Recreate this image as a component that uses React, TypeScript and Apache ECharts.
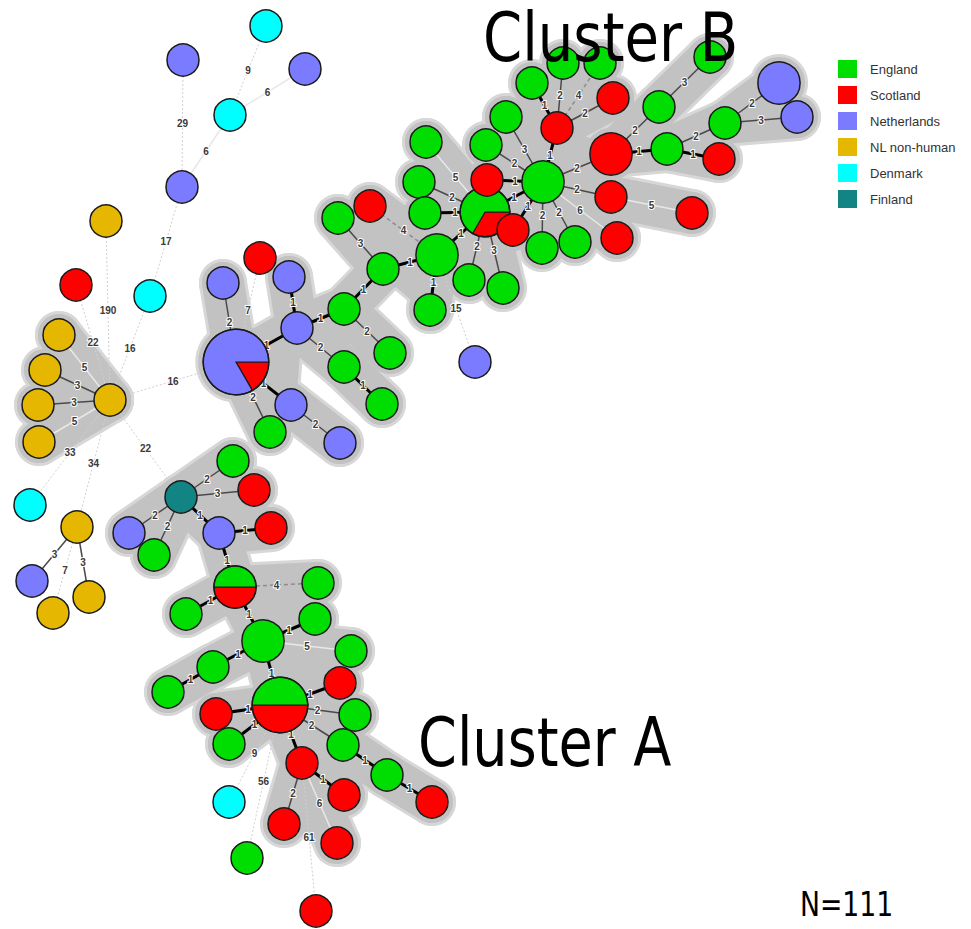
import React, { useEffect, useRef } from "react";
import * as echarts from "echarts";

const countries = ["England", "Scotland", "Netherlands", "NL non-human", "Denmark", "Finland"];
const countryColors = ["#00dd00", "#ff0000", "#7b7bff", "#e5b700", "#00ffff", "#138484"];

const E = 0, S = 1, NL = 2, H = 3, DK = 4, FI = 5;

// node positions (chart units, y grows downward)
const nodeX = [266, 183, 305, 230, 182, 150,
  106, 76, 110, 59, 45, 38, 39,
  30, 77, 32, 53, 89,
  181, 233, 254, 129, 154, 219, 271,
  235, 318, 186, 263, 315, 351, 213, 168, 280, 340, 216, 355, 229, 343, 302, 387, 432, 344, 284, 337, 229, 247, 316,
  236, 223, 260, 289, 297, 344, 390, 344, 382, 291, 340, 270, 383,
  437, 430, 475, 338, 370, 426, 419, 425, 485, 487, 513, 469, 503, 543, 486, 506, 532, 563, 600, 557, 613, 611, 659, 710, 667, 725, 719, 779, 797, 611, 692, 542, 575, 617];
const nodeY = [26, 60, 69, 115, 187, 296,
  221, 285, 400, 335, 370, 405, 442,
  505, 527, 581, 613, 597,
  497, 461, 490, 533, 555, 533, 528,
  587, 583, 614, 641, 619, 651, 667, 692, 705, 683, 714, 715, 744, 745, 763, 775, 802, 795, 824, 843, 802, 858, 911,
  362, 283, 258, 277, 328, 309, 353, 367, 404, 405, 443, 432, 269,
  255, 310, 362, 218, 206, 142, 182, 213, 212, 180, 230, 280, 288, 182, 145, 117, 83, 63, 63, 128, 98, 154, 107, 57, 149, 123, 159, 83, 117, 197, 213, 248, 242, 238];

// isolates per node: [country, count]
const nodeMix: number[][][] = [
  [[DK, 1]], [[NL, 1]], [[NL, 1]], [[DK, 1]], [[NL, 1]], [[DK, 1]],
  [[H, 1]], [[S, 1]], [[H, 1]], [[H, 1]], [[H, 1]], [[H, 1]], [[H, 1]],
  [[DK, 1]], [[H, 1]], [[NL, 1]], [[H, 1]], [[H, 1]],
  [[FI, 1]], [[E, 1]], [[S, 1]], [[NL, 1]], [[E, 1]], [[NL, 1]], [[S, 1]],
  [[S, 1], [E, 1]], [[E, 1]], [[E, 1]], [[E, 2]], [[E, 1]], [[E, 1]], [[E, 1]], [[E, 1]], [[S, 2], [E, 2]], [[S, 1]], [[S, 1]], [[E, 1]], [[E, 1]], [[E, 1]], [[S, 1]], [[E, 1]], [[S, 1]], [[S, 1]], [[S, 1]], [[S, 1]], [[DK, 1]], [[E, 1]], [[S, 1]],
  [[S, 1], [NL, 5]], [[NL, 1]], [[S, 1]], [[NL, 1]], [[NL, 1]], [[E, 1]], [[E, 1]], [[E, 1]], [[E, 1]], [[NL, 1]], [[NL, 1]], [[E, 1]], [[E, 1]],
  [[E, 2]], [[E, 1]], [[NL, 1]], [[E, 1]], [[S, 1]], [[E, 1]], [[E, 1]], [[E, 1]], [[S, 1], [E, 2]], [[S, 1]], [[S, 1]], [[E, 1]], [[E, 1]], [[E, 2]], [[E, 1]], [[E, 1]], [[E, 1]], [[E, 1]], [[E, 1]], [[S, 1]], [[S, 1]], [[S, 2]], [[E, 1]], [[E, 1]], [[E, 1]], [[E, 1]], [[S, 1]], [[NL, 2]], [[NL, 1]], [[S, 1]], [[S, 1]], [[E, 1]], [[E, 1]], [[S, 1]],
];

// minimum spanning tree edges and allele distances
const edgeFrom = [0, 2, 1, 3, 4, 5,
  6, 7, 9, 10, 11, 12, 8, 8, 8, 8,
  14, 14, 14,
  18, 18, 18, 18, 18, 23, 23,
  25, 25, 25, 28, 28, 28, 31, 28, 33, 33, 33, 33, 33, 33, 38, 40, 39, 39, 39, 39, 33, 33,
  48, 48, 48, 52, 52, 52, 53, 55, 53, 60, 61, 60, 48, 57, 48,
  61, 61, 65, 66, 67, 68, 69, 69, 69, 70, 71, 74, 74, 74, 80, 80, 80, 80, 74, 74, 74, 74, 74, 82, 83, 82, 85, 85, 86, 86, 90];
const edgeTo = [3, 3, 4, 4, 5, 8,
  8, 8, 8, 8, 8, 8, 48, 18, 13, 14,
  15, 16, 17,
  19, 20, 21, 22, 23, 24, 25,
  26, 27, 28, 29, 30, 31, 32, 33, 34, 35, 36, 38, 37, 39, 40, 41, 42, 43, 44, 47, 45, 46,
  49, 50, 52, 51, 53, 55, 54, 56, 60, 61, 62, 64, 57, 58, 59,
  69, 63, 61, 69, 69, 69, 72, 73, 74, 74, 74, 75, 76, 80, 77, 78, 79, 81, 82, 90, 92, 93, 94, 83, 84, 85, 86, 87, 88, 89, 91];
const edgeDist = [9, 6, 29, 6, 17, 16,
  190, 22, 5, 3, 3, 5, 16, 22, 33, 34,
  3, 7, 3,
  2, 3, 2, 2, 1, 1, 1,
  4, 1, 1, 1, 5, 1, 1, 1, 1, 1, 2, 2, 1, 1, 1, 1, 1, 2, 6, 61, 9, 56,
  2, 7, 1, 1, 1, 2, 2, 1, 1, 1, 1, 3, 1, 2, 2,
  1, 15, 4, 5, 2, 1, 2, 3, 1, 1, 1, 2, 3, 1, 1, 2, 4, 2, 2, 2, 2, 2, 6, 2, 3, 1, 2, 1, 2, 3, 5];

// nodes outside the shaded complexes
const unshadedNodes = [0, 1, 2, 3, 4, 5, 6, 7, 13, 14, 15, 16, 17, 45, 46, 47, 50, 63];
const complexMaxDist = 6;

const titleTexts = ["Cluster B", "Cluster A"];
const sampleNote = "N=111";

const nodeTotal = (i: number) => nodeMix[i].reduce((s, m) => s + m[1], 0);
const radiusOf = (count: number) => 16 * Math.pow(count, 0.4);

function edgeStyle(d: number) {
  if (d === 1) return { stroke: "#000", lineWidth: 3 };
  if (d <= 3) return { stroke: "#4a4a4a", lineWidth: 1.5 };
  if (d === 4) return { stroke: "#8c8c8c", lineWidth: 1.5, lineDash: [4, 3] };
  if (d <= 6) return { stroke: "#e8e8e8", lineWidth: 1.5 };
  return { stroke: "#d0d0d0", lineWidth: 1, lineDash: [2, 2] };
}

// shading geometry derived from the tree: bands along edges, halos round nodes,
// and fills between neighbouring branches that leave a node at a narrow angle
function buildHull(): number[][] {
  const unshaded = new Set(unshadedNodes);
  const items: number[][] = [];
  const nbrs: number[][] = nodeX.map(() => []);
  edgeFrom.forEach((a, k) => {
    const b = edgeTo[k];
    if (edgeDist[k] <= complexMaxDist && !unshaded.has(a) && !unshaded.has(b)) {
      items.push([nodeX[a], nodeY[a], nodeX[b], nodeY[b], 0, 0, 0]);
      nbrs[a].push(b);
      nbrs[b].push(a);
    }
  });
  nodeX.forEach((x, i) => {
    if (!unshaded.has(i)) items.push([x, nodeY[i], x, nodeY[i], radiusOf(nodeTotal(i)), 0, 0]);
  });
  const maxGap = (69.5 * Math.PI) / 180;
  nbrs.forEach((list, p) => {
    if (list.length < 2) return;
    const ang = list
      .map((q) => ({ q, a: Math.atan2(nodeY[q] - nodeY[p], nodeX[q] - nodeX[p]) }))
      .sort((u, v) => u.a - v.a);
    for (let k = 0; k < ang.length; k++) {
      const u = ang[k];
      const v = ang[(k + 1) % ang.length];
      let gap = v.a - u.a;
      if (gap < 0) gap += Math.PI * 2;
      if (ang.length === 2 && k === 1) break;
      if (gap <= maxGap) {
        items.push([nodeX[p], nodeY[p], nodeX[u.q], nodeY[u.q], -1, nodeX[v.q], nodeY[v.q]]);
      }
    }
  });
  return items;
}

export default function App() {
  const ref = useRef<HTMLDivElement>(null);
  useEffect(() => {
    if (!ref.current) return;
    const chart = echarts.init(ref.current, null, { renderer: "svg" });

    const hullData = buildHull();

    const hullRender = (pad: number, color: string) => (_p: any, api: any) => {
      const p1 = api.coord([api.value(0), api.value(1)]);
      const p2 = api.coord([api.value(2), api.value(3)]);
      const kind = api.value(4) as number;
      if (kind > 0) {
        return { type: "circle", shape: { cx: p1[0], cy: p1[1], r: kind + pad }, style: { fill: color } };
      }
      if (kind < 0) {
        const p3 = api.coord([api.value(5), api.value(6)]);
        return { type: "polygon", shape: { points: [p1, p2, p3] }, style: { fill: color, stroke: color, lineWidth: 2 * pad, lineJoin: "round" } };
      }
      return {
        type: "line",
        shape: { x1: p1[0], y1: p1[1], x2: p2[0], y2: p2[1] },
        style: { stroke: color, lineWidth: 2 * (16 + pad), lineCap: "round" },
      };
    };

    const edgeData = edgeFrom.map((a, k) => [nodeX[a], nodeY[a], nodeX[edgeTo[k]], nodeY[edgeTo[k]], edgeDist[k]]);
    const labelData = edgeFrom.map((a, k) => [(nodeX[a] + nodeX[edgeTo[k]]) / 2, (nodeY[a] + nodeY[edgeTo[k]]) / 2, edgeDist[k]]);
    const nodeData = nodeX.map((x, i) => [x, nodeY[i], i]);

    const option: any = {
      animation: false,
      grid: { left: 0, right: 0, top: 0, bottom: 0 },
      xAxis: { type: "value", min: 0, max: 971, show: false },
      yAxis: { type: "value", min: 0, max: 929, inverse: true, show: false },
      legend: {
        orient: "vertical",
        left: 833,
        top: 55,
        itemWidth: 19,
        itemHeight: 18,
        itemGap: 8,
        icon: "rect",
        selectedMode: false,
        data: countries,
        itemStyle: { opacity: 1 },
        textStyle: { fontFamily: "Liberation Sans, Arial, sans-serif", fontSize: 13, color: "#333", padding: [0, 0, 0, 8] },
      },
      graphic: [
        { type: "text", x: 483, y: 37, scaleX: 0.917, z: 100, style: { text: titleTexts[0], font: '68px "DejaVu Sans Condensed"', fill: "#000", verticalAlign: "middle" } },
        { type: "text", x: 418, y: 742, scaleX: 0.91, z: 100, style: { text: titleTexts[1], font: '68px "DejaVu Sans Condensed"', fill: "#000", verticalAlign: "middle" } },
        { type: "text", x: 800, y: 904, scaleX: 0.9, z: 100, style: { text: sampleNote, font: '33px "DejaVu Sans Condensed"', fill: "#000", verticalAlign: "middle" } },
      ],
      series: [
        ...countries.map((c, i) => ({ name: c, type: "scatter", data: [], itemStyle: { color: countryColors[i], opacity: 1 } })),
        { type: "custom", name: "hullOuter", z: 1, clip: false, data: hullData, renderItem: hullRender(8, "#d7d7d7"), silent: true },
        { type: "custom", name: "hullInner", z: 2, clip: false, data: hullData, renderItem: hullRender(5, "#c2c2c2"), silent: true },
        {
          type: "custom", name: "edges", z: 3, clip: false, data: edgeData, silent: true,
          renderItem: (_p: any, api: any) => {
            const p1 = api.coord([api.value(0), api.value(1)]);
            const p2 = api.coord([api.value(2), api.value(3)]);
            return { type: "line", shape: { x1: p1[0], y1: p1[1], x2: p2[0], y2: p2[1] }, style: edgeStyle(api.value(4)) };
          },
        },
        {
          type: "custom", name: "labels", z: 4, clip: false, data: labelData, silent: true,
          renderItem: (_p: any, api: any) => {
            const p = api.coord([api.value(0), api.value(1)]);
            return {
              type: "text", x: p[0], y: p[1],
              style: { text: String(api.value(2)), fill: "#3a3a3a", font: 'bold 10px "Liberation Sans"', align: "center", verticalAlign: "middle", stroke: "#ffffff", lineWidth: 2 },
            };
          },
        },
        {
          type: "custom", name: "nodes", z: 5, clip: false, data: nodeData, silent: true,
          renderItem: (_p: any, api: any) => {
            const i = api.value(2) as number;
            const [cx, cy] = api.coord([api.value(0), api.value(1)]);
            const mix = nodeMix[i];
            const total = nodeTotal(i);
            const r = radiusOf(total);
            if (mix.length === 1) {
              return { type: "circle", shape: { cx, cy, r }, style: { fill: countryColors[mix[0][0]], stroke: "#1a1a1a", lineWidth: 1.5 } };
            }
            const children: any[] = [];
            let a = 0;
            mix.forEach(([c, n]) => {
              const b = a + (n / total) * Math.PI * 2;
              children.push({ type: "sector", shape: { cx, cy, r0: 0, r, startAngle: a, endAngle: b, clockwise: true }, style: { fill: countryColors[c], stroke: "#1a1a1a", lineWidth: 1.2 } });
              a = b;
            });
            children.push({ type: "circle", shape: { cx, cy, r }, style: { fill: "none", stroke: "#1a1a1a", lineWidth: 1.5 } });
            return { type: "group", children };
          },
        },
      ],
    };
    chart.setOption(option);
    return () => chart.dispose();
  }, []);
  return <div ref={ref} style={{ position: "absolute", left: 0, top: 0, width: 971, height: 929, background: "#fff" }} />;
}
